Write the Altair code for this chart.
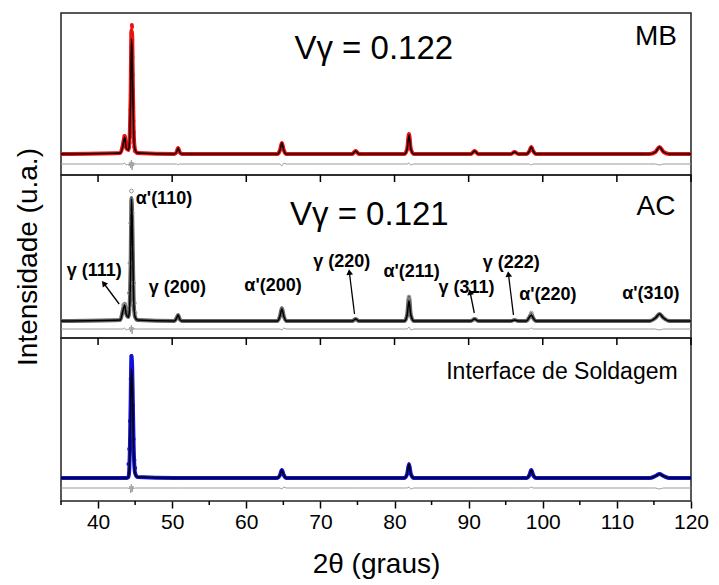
import altair as alt
import pandas as pd

# ---------------- data ----------------
X = [35, 43.0, 43.35, 43.6, 43.8, 44.1, 44.2, 44.3, 44.4, 44.5, 44.6, 44.7, 44.8, 44.9, 45.0, 45.3,
     50.3, 50.6, 50.8, 51.0, 51.3,
     64.2, 64.55, 64.8, 65.05, 65.4,
     74.3, 74.75, 75.2,
     81.35, 81.7, 81.95, 82.2, 82.6,
     90.3, 90.8, 91.3,
     95.7, 96.2, 96.7,
     97.8, 98.2, 98.45, 98.7, 99.1,
     114.4, 115.2, 115.75, 116.3, 117.1, 120]

# MB panel
mb_obs = [21, 22, 30, 39, 27, 25, 30, 45, 80, 145, 140, 85, 45, 30, 25, 22,
          21, 23, 27, 23, 21,
          21, 25, 32, 25, 21,
          21, 24, 21,
          21, 26, 41, 26, 21,
          21, 24, 21,
          21, 23, 21,
          21, 24, 28, 24, 21,
          21, 23, 28, 23, 21, 21]
mb_calc = [21, 22, 29, 38, 27, 25, 29, 42, 76, 136, 124, 80, 43, 29, 25, 22,
           21, 23, 27, 23, 21,
           21, 25, 32, 25, 21,
           21, 24, 21,
           21, 26, 40, 26, 21,
           21, 24, 21,
           21, 23, 21,
           21, 24, 28, 24, 21,
           21, 23, 28, 23, 21, 21]
mb_diff = [11, 11, 11, 12, 10, 11, 9, 13, 7, 15, 5, 13, 9, 12, 11, 11,
           11, 11, 10, 11, 11,
           11, 11, 9, 12, 11,
           11, 11, 11,
           11, 11, 12, 10, 11,
           11, 11, 11,
           11, 11, 11,
           11, 11, 10, 11, 11,
           11, 11, 10, 11, 11, 11]
mb_dot_x = [43.45, 43.55, 43.65, 44.20, 44.26, 44.30, 44.34, 44.38, 44.41, 44.44, 44.47, 44.50, 44.53,
            44.56, 44.59, 44.62, 44.65, 44.68, 44.71, 44.74, 44.77, 44.80, 44.84, 44.88, 44.94]
mb_dot_y = [33, 39, 36, 28, 32, 38, 50, 65, 80, 95, 112, 128, 142,
            150, 148, 135, 118, 100, 84, 68, 54, 43, 34, 28, 24]

# AC panel
ac_obs = [17, 18, 28, 34, 24, 21, 26, 40, 75, 140, 125, 80, 40, 25, 21, 18,
          17, 20, 23, 19, 17,
          17, 22, 30, 22, 17,
          17, 19, 17,
          17, 23, 41, 23, 17,
          17, 19, 17,
          17, 18, 17,
          17, 21, 24, 20, 17,
          17, 20, 24, 20, 17, 17]
ac_calc = [17, 18, 27, 33, 24, 21, 25, 38, 72, 139, 120, 78, 39, 25, 21, 18,
           17, 20, 23, 19, 17,
           17, 22, 29, 22, 17,
           17, 19, 17,
           17, 23, 37, 23, 17,
           17, 19, 17,
           17, 18, 17,
           17, 21, 23, 20, 17,
           17, 20, 24, 20, 17, 17]
ac_diff = [9, 9, 9, 10, 8, 9, 8, 11, 6, 13, 4, 11, 8, 10, 9, 9,
           9, 9, 9, 9, 9,
           9, 9, 8, 10, 9,
           9, 9, 9,
           9, 9, 11, 8, 9,
           9, 9, 9,
           9, 9, 9,
           9, 9, 10, 9, 9,
           9, 9, 8, 9, 9, 9]
ac_dot_x = [43.45, 43.6, 44.1, 44.2, 44.3, 44.4, 44.5, 44.6, 44.7, 44.8, 44.9, 45.0, 81.95, 98.45]
ac_dot_y = [33, 34, 30, 45, 75, 115, 147, 125, 90, 55, 35, 25, 41, 25]

# Interface de Soldagem panel
is_obs = [23, 23, 23, 23, 23, 24, 30, 55, 100, 145, 135, 95, 55, 35, 28, 24,
          23, 23, 23, 23, 23,
          23, 26, 31, 26, 23,
          23, 23, 23,
          23, 27, 37, 27, 23,
          23, 23, 23,
          23, 23, 23,
          23, 26, 31, 26, 23,
          23, 25, 27, 25, 23, 23]
is_calc = [23, 23, 23, 23, 23, 24, 29, 52, 95, 132, 125, 90, 52, 34, 27, 24,
           23, 23, 23, 23, 23,
           23, 26, 31, 26, 23,
           23, 23, 23,
           23, 27, 37, 27, 23,
           23, 23, 23,
           23, 23, 23,
           23, 26, 31, 26, 23,
           23, 25, 27, 25, 23, 23]
is_diff = [13, 13, 13, 13, 13, 13, 12, 15, 8, 17, 9, 15, 12, 13, 13, 13,
           13, 13, 13, 13, 13,
           13, 13, 12, 14, 13,
           13, 13, 13,
           13, 13, 14, 12, 13,
           13, 13, 13,
           13, 13, 13,
           13, 13, 14, 13, 13,
           13, 13, 12, 13, 13, 13]
is_dot_x = [44.1, 44.2, 44.3, 44.4, 44.5, 44.6, 44.7, 44.8, 44.9, 45.0]
is_dot_y = [37, 52, 80, 122, 145, 132, 96, 62, 41, 33]

# annotations (data coordinates)
peak_labels = ["α'(110)", "γ (111)", "γ (200)", "α'(200)", "γ (220)", "α'(211)",
               "γ (311)", "γ (222)", "α'(220)", "α'(310)"]
peak_label_x = [45.09, 39.49, 50.70, 63.61, 72.89, 82.30, 89.70, 95.75, 100.69, 114.59]
peak_label_y = [139, 67, 50, 52, 76, 66, 50, 75, 43, 44]
peak_label_align = ["left"] + ["center"] * 9

arrow_tail_x = [42.85, 74.60, 90.76, 96.05]
arrow_tail_y = [34, 24, 25, 23]
arrow_head_x = [40.84, 73.92, 90.22, 95.38]
arrow_head_y = [54, 65, 45, 63]
arrow_angle = [322, 353, 349, 353]

major_ticks = [40, 50, 60, 70, 80, 90, 100, 110, 120]
minor_ticks = [35, 45, 55, 65, 75, 85, 95, 105, 115]

FONT = "Liberation Sans"
W = 630
YTITLE = "Intensidade (u.a.)"


def panel(H, obs, calc, diff, dot_x, dot_y, color, dot_filled, texts, xaxis, yaxis, top_ticks, bottom_minor):
    df = pd.DataFrame({"x": X, "obs": obs, "calc": calc, "diff": diff})
    dots = pd.DataFrame({"x": dot_x, "y": dot_y})
    xs = alt.Scale(domain=[35, 120], nice=False, zero=False)
    ys = alt.Scale(domain=[0, H], nice=False, zero=False)
    ytitle = YTITLE if yaxis is not None else None

    def xe(f="x"):
        return alt.X(f"{f}:Q", scale=xs, axis=xaxis, title="2θ (graus)")

    def ye(f):
        return alt.Y(f"{f}:Q", scale=ys, axis=yaxis, title=ytitle)

    base = alt.Chart(df)
    layers = [
        base.mark_line(color=color, strokeWidth=4, interpolate="monotone").encode(x=xe(), y=ye("obs")),
        base.mark_line(color="#999999", strokeWidth=1, interpolate="monotone").encode(x=xe(), y=ye("diff")),
    ]
    if dot_filled:
        layers.append(alt.Chart(dots).mark_circle(color=color, size=16, opacity=1).encode(x=xe(), y=ye("y")))
    else:
        layers.append(alt.Chart(dots).mark_point(color="#999999", size=14, strokeWidth=1, opacity=1).encode(x=xe(), y=ye("y")))
    layers.append(base.mark_line(color="black", strokeWidth=1.5, interpolate="monotone").encode(x=xe(), y=ye("calc")))

    for t in texts:
        tdf = pd.DataFrame({"x": [t["x"]], "y": [t["y"]], "t": [t["text"]]})
        layers.append(alt.Chart(tdf).mark_text(font=FONT, fontSize=t["size"], align=t["align"],
                                               baseline="middle", color="black").encode(
            x=xe(), y=ye("y"), text="t:N"))

    if top_ticks:
        tdf = pd.DataFrame({"x": major_ticks})
        layers.append(alt.Chart(tdf).mark_rule(color="black", strokeWidth=1.5).encode(
            x=xe(), y=alt.value(0), y2=alt.value(7)))
    if bottom_minor:
        tdf = pd.DataFrame({"x": minor_ticks})
        layers.append(alt.Chart(tdf).mark_rule(color="black", strokeWidth=1.5).encode(
            x=xe(), y=alt.value(H), y2=alt.value(H + 4)))
    return layers


ax_bottom = alt.Axis(values=major_ticks, tickSize=7, tickWidth=1.5, tickColor="black", domain=False,
                     grid=False, labelFontSize=21, labelFont=FONT, labelColor="black", labelPadding=3,
                     labelFlush=False, titleFontSize=28, titleFont=FONT, titleFontWeight="normal",
                     titleColor="black", titlePadding=18)
ax_left = alt.Axis(labels=False, ticks=False, domain=False, grid=False, titleFontSize=28, titleFont=FONT,
                   titleFontWeight="normal", titleColor="black", titlePadding=19)

top = alt.layer(*panel(162, mb_obs, mb_calc, mb_diff, mb_dot_x, mb_dot_y, "#ee1111", True,
                       [dict(x=77.2, y=126, text="Vγ = 0.122", size=33, align="center"),
                        dict(x=118.1, y=138, text="MB", size=28, align="right")],
                       None, None, False, False)).properties(width=W, height=162)

mid_layers = panel(163, ac_obs, ac_calc, ac_diff, ac_dot_x, ac_dot_y, "#666666", False,
                   [dict(x=76.6, y=123, text="Vγ = 0.121", size=33, align="center"),
                    dict(x=117.9, y=131, text="AC", size=28, align="right")],
                   None, ax_left, True, False)

# peak labels and arrows on the middle panel
pl = pd.DataFrame({"x": peak_label_x, "y": peak_label_y, "t": peak_labels, "a": peak_label_align})
xs_m = alt.Scale(domain=[35, 120], nice=False, zero=False)
ys_m = alt.Scale(domain=[0, 163], nice=False, zero=False)
ym = lambda f: alt.Y(f"{f}:Q", scale=ys_m, axis=ax_left, title=YTITLE)
xm = lambda f: alt.X(f"{f}:Q", scale=xs_m, axis=None)
lab_left = alt.Chart(pl[pl.a == "left"]).mark_text(font=FONT, fontSize=18, fontWeight="bold", align="left",
                                                  baseline="middle", color="black").encode(
    x=xm("x"), y=ym("y"), text="t:N")
lab_center = alt.Chart(pl[pl.a == "center"]).mark_text(font=FONT, fontSize=18, fontWeight="bold", align="center",
                                                      baseline="middle", color="black").encode(
    x=xm("x"), y=ym("y"), text="t:N")
ar = pd.DataFrame({"x": arrow_tail_x, "y": arrow_tail_y, "x2": arrow_head_x, "y2": arrow_head_y, "ang": arrow_angle})
shafts = alt.Chart(ar).mark_rule(color="black", strokeWidth=1.3).encode(
    x=xm("x"), y=ym("y"), x2="x2:Q", y2="y2:Q")
heads = alt.Chart(ar).mark_point(shape="triangle", filled=True, color="black", size=45, opacity=1).encode(
    x=xm("x2"), y=ym("y2"), angle=alt.Angle("ang:Q", scale=None))
mid = alt.layer(*mid_layers, lab_left, lab_center, shafts, heads).properties(width=W, height=163)

bot = alt.layer(*panel(163, is_obs, is_calc, is_diff, is_dot_x, is_dot_y, "#1111dd", True,
                       [dict(x=118.2, y=129, text="Interface de Soldagem", size=23, align="right")],
                       ax_bottom, None, True, True)).properties(width=W, height=163)

chart = alt.vconcat(top, mid, bot, spacing=0, bounds="flush").properties(
    padding={"left": 5, "top": 4, "right": 0, "bottom": 0}
).configure_view(stroke="#222222", strokeWidth=1.5).configure_concat(spacing=0)

chart.save("out.html", embed_options={"renderer": "svg", "actions": False})
